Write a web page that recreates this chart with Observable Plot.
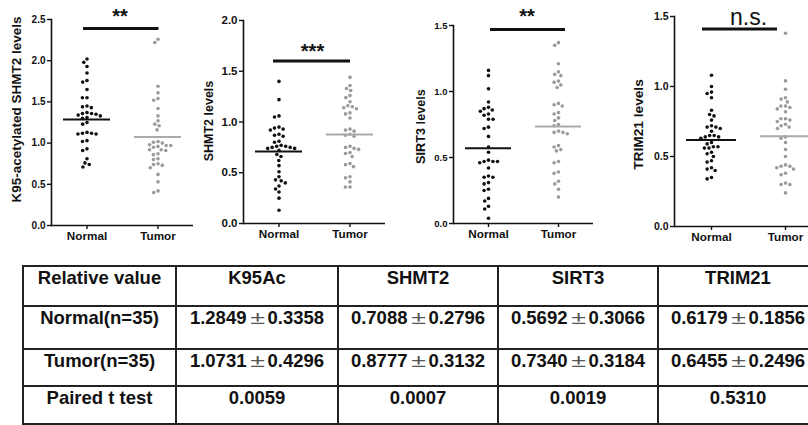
<!DOCTYPE html>
<html><head><meta charset="utf-8">
<script src="https://cdn.jsdelivr.net/npm/d3@7"></script>
<script src="https://cdn.jsdelivr.net/npm/@observablehq/plot@0.6"></script>
<style>
html,body{margin:0;padding:0;background:#fff;overflow:hidden;width:808px;height:425px;}
#root{position:relative;width:808px;height:425px;overflow:hidden;}
.panel{position:absolute;top:0;}
.panel svg{max-width:none;overflow:visible;}
.panel svg g[aria-label="frame"]{stroke-width:1.6px;}
.panel svg g[aria-label="y-axis tick"], .panel svg g[aria-label="fx-axis tick"]{stroke-width:1.4px;}
table{position:absolute;left:22px;top:265px;border-collapse:collapse;table-layout:fixed;width:795px;
  font-family:"Liberation Sans",Arial,sans-serif;font-weight:bold;font-size:18.5px;color:#111;}
td{border:2px solid #222;text-align:center;vertical-align:top;padding:0;line-height:21px;white-space:nowrap;overflow:hidden;}
.pm{display:inline-block;width:21px;text-align:center;font-weight:normal;color:#555;transform:scaleX(1.45);}
</style></head><body><div id="root"></div>
<script>
// ---------- data ----------
const groups = ["Normal", "Tumor"];
const yLabels = ["K95-acetylated SHMT2 levels", "SHMT2 levels", "SIRT3 levels", "TRIM21 levels"];
const yMaxes = [2.5, 2.0, 1.5, 1.5];
const sigLabels = ["**", "***", "**", "n.s."];
const sigLevels = [2.39, 1.6, 1.47, 1.41];

const k95Normal = [2.02, 1.98, 1.93, 1.85, 1.76, 1.74, 1.65, 1.55, 1.55, 1.45, 1.44, 1.43, 1.37, 1.36, 1.36, 1.35, 1.34, 1.33, 1.31, 1.30, 1.25, 1.23, 1.13, 1.12, 1.12, 1.11, 1.11, 1.03, 1.02, 0.93, 0.91, 0.81, 0.76, 0.74, 0.71];
const k95Tumor = [2.26, 2.22, 1.69, 1.61, 1.54, 1.52, 1.42, 1.33, 1.27, 1.23, 1.21, 1.16, 1.02, 1.01, 1.00, 0.98, 0.97, 0.97, 0.96, 0.95, 0.92, 0.92, 0.91, 0.87, 0.86, 0.81, 0.80, 0.75, 0.74, 0.73, 0.70, 0.62, 0.53, 0.42, 0.40];
const shmt2Normal = [1.40, 1.22, 1.06, 1.05, 0.95, 0.94, 0.93, 0.92, 0.88, 0.87, 0.86, 0.81, 0.80, 0.77, 0.76, 0.76, 0.75, 0.75, 0.74, 0.74, 0.72, 0.68, 0.66, 0.62, 0.57, 0.51, 0.46, 0.43, 0.42, 0.40, 0.37, 0.34, 0.31, 0.25, 0.13];
const shmt2Tumor = [1.44, 1.36, 1.33, 1.31, 1.26, 1.24, 1.20, 1.16, 1.15, 1.14, 1.13, 1.09, 1.08, 1.04, 0.93, 0.92, 0.91, 0.88, 0.87, 0.86, 0.76, 0.75, 0.74, 0.73, 0.70, 0.69, 0.66, 0.59, 0.58, 0.56, 0.46, 0.45, 0.41, 0.36, 0.36];
const sirt3Normal = [1.16, 1.12, 1.02, 0.92, 0.88, 0.87, 0.86, 0.85, 0.83, 0.82, 0.79, 0.79, 0.73, 0.72, 0.66, 0.58, 0.54, 0.48, 0.47, 0.47, 0.47, 0.46, 0.42, 0.36, 0.35, 0.35, 0.31, 0.30, 0.26, 0.25, 0.19, 0.17, 0.13, 0.11, 0.04];
const sirt3Tumor = [1.37, 1.35, 1.21, 1.15, 1.13, 1.12, 1.08, 1.07, 1.05, 1.03, 0.91, 0.90, 0.89, 0.84, 0.83, 0.80, 0.78, 0.75, 0.74, 0.70, 0.69, 0.69, 0.68, 0.59, 0.58, 0.56, 0.55, 0.47, 0.46, 0.39, 0.38, 0.32, 0.30, 0.26, 0.20];
const trim21Normal = [1.08, 1.00, 0.96, 0.95, 0.92, 0.83, 0.80, 0.79, 0.76, 0.72, 0.71, 0.71, 0.70, 0.68, 0.65, 0.65, 0.64, 0.64, 0.63, 0.60, 0.59, 0.57, 0.57, 0.56, 0.56, 0.53, 0.52, 0.50, 0.47, 0.46, 0.42, 0.41, 0.40, 0.35, 0.34];
const trim21Tumor = [1.38, 1.04, 0.98, 0.92, 0.91, 0.89, 0.86, 0.86, 0.85, 0.84, 0.82, 0.77, 0.77, 0.76, 0.75, 0.73, 0.72, 0.71, 0.70, 0.64, 0.63, 0.60, 0.55, 0.50, 0.44, 0.43, 0.43, 0.42, 0.41, 0.38, 0.37, 0.31, 0.30, 0.30, 0.24];

const markers = ["K95Ac", "SHMT2", "SIRT3", "TRIM21"];
const normalMeans = [1.2849, 0.7088, 0.5692, 0.6179];
const normalSDs = [0.3358, 0.2796, 0.3066, 0.1856];
const tumorMeans = [1.0731, 0.8777, 0.7340, 0.6455];
const tumorSDs = [0.4296, 0.3132, 0.3184, 0.2496];
const pValues = [0.0059, 0.0007, 0.0019, 0.5310];
const tableCorner = "Relative value";
const rowLabels = ["Normal(n=35)", "Tumor(n=35)", "Paired t test"];

const seriesNormal = [k95Normal, shmt2Normal, sirt3Normal, trim21Normal];
const seriesTumor = [k95Tumor, shmt2Tumor, sirt3Tumor, trim21Tumor];

// ---------- layout / style ----------
const BLACK = "#111", GREY = "#9a9a9a", GREYLINE = "#aaaaaa";
const layout = [
  {left: 0,   width: 198, height: 245, ml: 50, mr: 5, mt: 19, mb: 20, tick: 10,   lab: 13.5, ldx: -35, ldy: -13, sig: 20, sigW: "bold",   sdy: -6, sdx: -2.5, bl: -3.75, br: 0.75},
  {left: 200, width: 190, height: 243, ml: 43, mr: 5, mt: 20, mb: 20, tick: 11.5, lab: 12.5, ldx: -35, ldy: -1,  sig: 20, sigW: "bold",   sdy: -3, sdx: -2,   bl: -5.5,  br: 0.5},
  {left: 400, width: 198, height: 243, ml: 53, mr: 5, mt: 25, mb: 20, tick: 9.5,  lab: 12.7, ldx: -33, ldy: 2,   sig: 20, sigW: "bold",   sdy: -6, sdx: 3.5,  bl: 2,     br: 7},
  {left: 600, width: 227, height: 246, ml: 74, mr: 5, mt: 16, mb: 20, tick: 10.5, lab: 13.7, ldx: -36, ldy: 3,   sig: 23, sigW: "normal", sdy: -4, sdx: 0,    bl: -9,    br: -8}
];

const root = document.getElementById("root");

layout.forEach((p, i) => {
  const dots = [
    ...seriesNormal[i].map(v => ({group: "Normal", value: v})),
    ...seriesTumor[i].map(v => ({group: "Tumor", value: v}))
  ];
  const means = [
    {group: "Normal", mean: normalMeans[i]},
    {group: "Tumor", mean: tumorMeans[i]}
  ];
  const sig = [{group: "Normal", level: sigLevels[i], label: sigLabels[i]}];
  const ylab = [{group: "Normal", label: yLabels[i]}];
  const band = (p.width - p.ml - p.mr) / 2;
  const ticks = d3.range(0, yMaxes[i] + 1e-9, 0.5);

  const chart = Plot.plot({
    width: p.width, height: p.height,
    marginLeft: p.ml, marginRight: p.mr, marginTop: p.mt, marginBottom: p.mb,
    style: {fontFamily: "'Liberation Sans', Arial, sans-serif", fontWeight: "bold", fontSize: p.tick + "px", color: BLACK, background: "transparent"},
    fx: {domain: groups, padding: 0},
    y: {domain: [0, yMaxes[i]], ticks, tickFormat: ".1f", tickSize: 4, tickPadding: 2, line: true, label: null},
    marks: [
      Plot.ruleY([0], {stroke: BLACK, strokeWidth: 1.6}),
      Plot.dot(dots, Plot.dodgeX("middle", {
        fx: "group", y: "value", r: 1.8, padding: 1.1,
        fill: d => d.group === "Normal" ? BLACK : GREY
      })),
      Plot.ruleY(means, {
        fx: "group", y: "mean", stroke: d => d.group === "Normal" ? BLACK : GREYLINE,
        strokeWidth: 2, insetLeft: 12, insetRight: 12
      }),
      Plot.ruleY(sig, {
        fx: "group", y: "level", stroke: BLACK, strokeWidth: 3,
        insetLeft: band / 2 + p.bl, insetRight: -(band / 2 + p.br)
      }),
      Plot.text(sig, {
        fx: "group", y: "level", text: "label", frameAnchor: "right", textAnchor: "middle", lineAnchor: "bottom",
        dx: p.sdx, dy: p.sdy, fontSize: p.sig, fontWeight: p.sigW, fill: BLACK
      }),
      Plot.text(ylab, {
        fx: "group", text: "label", frameAnchor: "left", textAnchor: "middle", lineAnchor: "middle", rotate: -90,
        dx: p.ldx, dy: p.ldy, fontSize: p.lab, fontWeight: "bold", fill: BLACK
      }),
      Plot.axisFx({anchor: "bottom", label: null, tickSize: 4, tickPadding: 2, fontSize: 11.7})
    ]
  });
  const div = document.createElement("div");
  div.className = "panel";
  div.style.left = p.left + "px";
  div.style.width = p.width + "px";
  div.appendChild(chart);
  root.appendChild(div);
});

// ---------- table ----------
const fmt = d3.format(".4f");
const colWidths = [153, 162, 160, 160, 160];
const rowHeights = [40, 43, 37, 38];
const tableRows = [
  [{t: tableCorner}, ...markers.map(m => ({t: m}))],
  [{t: rowLabels[0]}, ...normalMeans.map((m, j) => ({m, s: normalSDs[j]}))],
  [{t: rowLabels[1]}, ...tumorMeans.map((m, j) => ({m, s: tumorSDs[j]}))],
  [{t: rowLabels[2]}, ...pValues.map(v => ({t: fmt(v)}))]
];
const table = d3.select("#root").append("table");
table.append("colgroup").selectAll("col").data(colWidths).join("col").style("width", d => d + "px");
const tr = table.append("tbody").selectAll("tr").data(tableRows).join("tr")
  .style("height", (d, k) => rowHeights[k] + "px");
tr.selectAll("td").data(d => d).join("td").each(function (d) {
  const td = d3.select(this);
  if (d.t !== undefined) td.text(d.t);
  else {
    td.append("span").text(fmt(d.m));
    td.append("span").attr("class", "pm").text("±");
    td.append("span").text(fmt(d.s));
  }
});
</script></body></html>
